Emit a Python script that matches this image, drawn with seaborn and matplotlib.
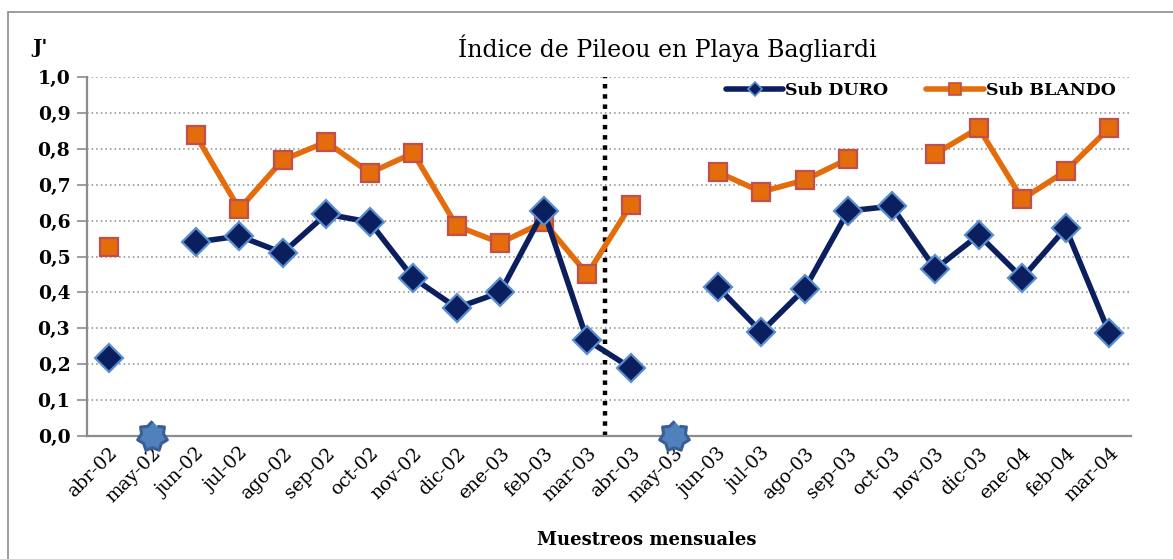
import numpy as np
import pandas as pd
import matplotlib
matplotlib.use("Agg")
import matplotlib.pyplot as plt
from matplotlib.lines import Line2D
from matplotlib.patches import Rectangle
from matplotlib.ticker import FuncFormatter
import seaborn as sns

# data
months = ["abr-02", "may-02", "jun-02", "jul-02", "ago-02", "sep-02", "oct-02", "nov-02",
          "dic-02", "ene-03", "feb-03", "mar-03", "abr-03", "may-03", "jun-03", "jul-03",
          "ago-03", "sep-03", "oct-03", "nov-03", "dic-03", "ene-04", "feb-04", "mar-04"]
sub_duro = [0.217, np.nan, 0.540, 0.557, 0.510, 0.618, 0.596, 0.440,
            0.357, 0.400, 0.627, 0.267, 0.190, np.nan, 0.415, 0.290,
            0.410, 0.627, 0.640, 0.465, 0.560, 0.440, 0.579, 0.287]
sub_blando = [0.527, np.nan, 0.838, 0.632, 0.769, 0.819, 0.733, 0.788,
              0.585, 0.538, 0.596, 0.451, 0.643, np.nan, 0.735, 0.680,
              0.713, 0.772, np.nan, 0.786, 0.858, 0.660, 0.738, 0.858]
zero_months = ["may-02", "may-03"]
zero_values = [0.0, 0.0]

NAVY = "#0b1f5e"
NAVY_EDGE = "#5a8fd0"
ORANGE = "#e46c0a"
ORANGE_EDGE = "#c0504d"
STAR_FILL = "#4f81bd"
STAR_EDGE = "#3a5f95"


def to_frame(values):
    # split into segments at the gaps so lines are not joined across missing months
    df = pd.DataFrame({"pos": np.arange(len(months)), "val": values})
    df["seg"] = df["val"].isna().cumsum()
    return df.dropna()


# 7-point star for the zero samples
ang = np.linspace(0, 2 * np.pi, 15)[:-1] + np.pi / 2
rad = np.where(np.arange(14) % 2 == 0, 1.0, 0.74)
star = list(zip(rad * np.cos(ang), rad * np.sin(ang)))

sns.set_style("white")
plt.rcParams["font.family"] = ["DejaVu Serif"]
plt.rcParams["text.color"] = "black"
plt.rcParams["xtick.color"] = "black"
plt.rcParams["ytick.color"] = "black"

fig = plt.figure(figsize=(11.73, 5.59), dpi=100)
ax = fig.add_axes([87 / 1173, 1 - 436 / 559, 1044 / 1173, 359 / 559])

fig.patches.append(Rectangle((8 / 1173, -0.05), 1.1, 1 - 12 / 559 + 0.05,
                             transform=fig.transFigure, fill=False,
                             edgecolor="#8c8c8c", linewidth=1.2, zorder=0))

for y in np.arange(0.1, 1.01, 0.1):
    ax.axhline(y, color="#8a8a8a", linestyle=(0, (1, 2)), linewidth=1.1, zorder=1)

ax.axvline(11.4, color="black", linestyle=(0, (1, 1.3)), linewidth=3.2, zorder=2)

sns.lineplot(data=to_frame(sub_blando), x="pos", y="val", units="seg", estimator=None,
             color=ORANGE, linewidth=4, marker="s", markersize=13.5,
             markerfacecolor=ORANGE, markeredgecolor=ORANGE_EDGE, markeredgewidth=1.6,
             legend=False, ax=ax, zorder=3)
sns.lineplot(data=to_frame(sub_duro), x="pos", y="val", units="seg", estimator=None,
             color=NAVY, linewidth=4, marker="D", markersize=14,
             markerfacecolor=NAVY, markeredgecolor=NAVY_EDGE, markeredgewidth=1.6,
             legend=False, ax=ax, zorder=4)
sns.scatterplot(x=[months.index(m) for m in zero_months], y=zero_values, marker=star,
                s=480, color=STAR_FILL, edgecolor=STAR_EDGE, linewidth=2.2,
                clip_on=False, legend=False, ax=ax, zorder=5)

ax.set_xlim(-0.5, len(months) - 0.5)
ax.set_ylim(0, 1.0)
ax.set_xticks(range(len(months)))
ax.set_xticklabels(months, rotation=45, ha="right", rotation_mode="anchor",
                   fontsize=13.5)
ax.set_yticks(np.arange(0, 1.01, 0.1))
ax.yaxis.set_major_formatter(FuncFormatter(lambda v, p: f"{v:.1f}".replace(".", ",")))
ax.tick_params(axis="y", labelsize=13.5, length=7, width=1.2, color="#8c8c8c",
               labelcolor="black", direction="out", left=True, pad=5)
ax.tick_params(axis="x", length=0, pad=6, labelcolor="black")
for lab in ax.get_yticklabels():
    lab.set_fontweight("bold")
ax.set_xlabel("")
ax.set_ylabel("")

for side in ["top", "right"]:
    ax.spines[side].set_visible(False)
for side in ["left", "bottom"]:
    ax.spines[side].set_color("#8c8c8c")
    ax.spines[side].set_linewidth(1.6)

handles = [
    Line2D([], [], color=NAVY, linewidth=4, marker="D", markersize=7,
           markerfacecolor=NAVY, markeredgecolor=NAVY_EDGE, markeredgewidth=1.2),
    Line2D([], [], color=ORANGE, linewidth=4, marker="s", markersize=8,
           markerfacecolor=ORANGE, markeredgecolor=ORANGE_EDGE, markeredgewidth=1.2),
]
ax.legend(handles, ["Sub DURO", "Sub BLANDO"], loc="upper right", ncol=2,
          bbox_to_anchor=(1.0, 1.03), frameon=False, handlelength=3.3,
          handletextpad=0.1, columnspacing=2.2,
          prop={"family": "DejaVu Serif", "size": 12.5, "weight": "bold"})

fig.text(667 / 1173, 1 - 48 / 559, "Índice de Pileou en Playa Bagliardi",
         ha="center", va="center", fontsize=17)
fig.text(40 / 1173, 1 - 48 / 559, "J'", ha="center", va="center",
         fontsize=14, fontweight="bold")
fig.text(647 / 1173, 1 - 540 / 559, "Muestreos mensuales", ha="center", va="center",
         fontsize=13, fontweight="bold")

fig.savefig("out.png", dpi=100)
